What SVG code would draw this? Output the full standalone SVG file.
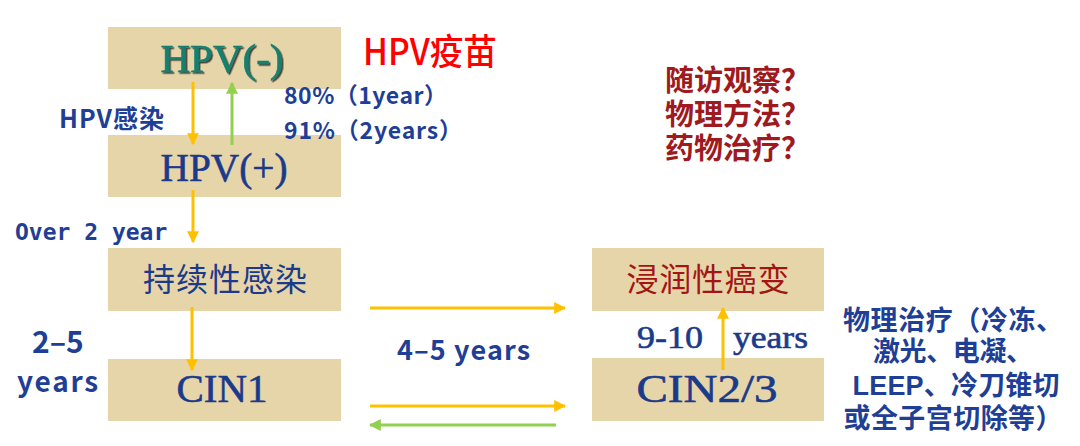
<svg xmlns="http://www.w3.org/2000/svg" width="1080" height="446" viewBox="0 0 1080 446">
<defs>
<style>
.box{fill:#E6D5A9}
.serif{font-family:"Liberation Serif","Noto Sans CJK SC",serif;stroke-width:0.6}
.cjkserif{font-family:"Noto Sans CJK SC",sans-serif;font-weight:normal}
.lbl{font-family:"Noto Sans CJK SC","Liberation Sans",sans-serif;font-weight:bold;fill:#1F3F96}
.lbl2{font-family:"Liberation Sans","Noto Sans CJK SC",sans-serif;font-weight:bold;fill:#1F3F96}
.navy{fill:#1B3A8A;stroke:#1B3A8A}
.or{stroke:#FFC000;stroke-width:3;fill:none}
.gr{stroke:#92D050;stroke-width:3;fill:none}
</style>
<marker id="ao" viewBox="0 0 10 10" refX="9" refY="5" markerWidth="4" markerHeight="4" markerUnits="strokeWidth" orient="auto"><path d="M0,0 L10,5 L0,10 z" fill="#FFC000"/></marker>
<marker id="ag" viewBox="0 0 10 10" refX="9" refY="5" markerWidth="4" markerHeight="4" markerUnits="strokeWidth" orient="auto"><path d="M0,0 L10,5 L0,10 z" fill="#92D050"/></marker>
<filter id="sh" x="-10%" y="-10%" width="130%" height="130%"><feDropShadow dx="1.5" dy="1.5" stdDeviation="0.6" flood-color="#1a1a1a" flood-opacity="0.8"/></filter>
</defs>
<rect width="1080" height="446" fill="#ffffff"/>

<g id="n-hpvneg"><rect class="box" x="108" y="27" width="233" height="62"/><text class="serif" x="222" y="72" font-size="41" text-anchor="middle" fill="#157F6E" stroke="#157F6E" filter="url(#sh)" textLength="123" lengthAdjust="spacingAndGlyphs">HPV(-)</text></g>
<g id="n-hpvpos"><rect class="box" x="108" y="135" width="233" height="62"/><text class="serif navy" x="224" y="181" font-size="40" text-anchor="middle" textLength="127" lengthAdjust="spacingAndGlyphs">HPV(+)</text></g>
<g id="n-persist"><rect class="box" x="108" y="248" width="233" height="63"/><text class="cjkserif" x="225" y="291" font-size="32" text-anchor="middle" fill="#1B3A8A" textLength="164">持续性感染</text></g>
<g id="n-cin1"><rect class="box" x="108" y="359" width="233" height="62"/><text class="serif navy" x="222" y="402" font-size="40" text-anchor="middle" textLength="91" lengthAdjust="spacingAndGlyphs">CIN1</text></g>
<g id="n-invasive"><rect class="box" x="592" y="248" width="232" height="63"/><text class="cjkserif" x="708" y="291" font-size="32" text-anchor="middle" fill="#A31515" textLength="163">浸润性癌变</text></g>
<g id="n-cin23"><rect class="box" x="592" y="358" width="232" height="63"/><text class="serif navy" x="707" y="402" font-size="40" text-anchor="middle" textLength="141" lengthAdjust="spacingAndGlyphs">CIN2/3</text></g>

<g id="connectors">
<line class="or" x1="193" y1="82" x2="193" y2="144" marker-end="url(#ao)"/>
<line class="gr" x1="232" y1="145" x2="232" y2="83" marker-end="url(#ag)"/>
<line class="or" x1="193" y1="190" x2="193" y2="242" marker-end="url(#ao)"/>
<line class="or" x1="192" y1="307" x2="192" y2="370" marker-end="url(#ao)"/>
<line class="or" x1="723" y1="370" x2="723" y2="308" marker-end="url(#ao)"/>
<line class="or" x1="370" y1="308" x2="565" y2="308" marker-end="url(#ao)"/>
<line class="or" x1="370" y1="406" x2="565" y2="406" marker-end="url(#ao)"/>
<line class="gr" x1="556" y1="425" x2="370" y2="425" marker-end="url(#ag)"/>
</g>

<g id="labels">
<text class="lbl" x="363" y="65" font-size="36" style="fill:#FF0000;font-weight:500" textLength="134" lengthAdjust="spacingAndGlyphs">HPV疫苗</text>
<text class="lbl" x="59" y="128" font-size="25" textLength="105">HPV感染</text>
<text class="lbl" x="284" y="104" font-size="23" textLength="163">80%（1year）</text>
<text class="lbl" x="284" y="139" font-size="23" textLength="178">91%（2years）</text>
<text x="15" y="240" font-size="23" font-family="'DejaVu Sans Mono','Liberation Mono',monospace" font-weight="bold" fill="#1F3F96">Over 2 year</text>
<text class="lbl" x="32" y="353" font-size="30">2–5</text>
<text class="lbl" x="17" y="392" font-size="28" textLength="81">years</text>
<text class="lbl" x="397" y="360" font-size="27" textLength="133">4–5 years</text>
<text class="serif navy" x="637" y="348" font-size="31" textLength="66" lengthAdjust="spacingAndGlyphs">9-10</text>
<text class="serif navy" x="733" y="348" font-size="31" textLength="75" lengthAdjust="spacingAndGlyphs">years</text>
<g class="lbl2" style="fill:#9E1A1E" font-size="29">
<text x="665" y="91" textLength="145">随访观察？</text>
<text x="665" y="125" textLength="145">物理方法？</text>
<text x="665" y="159" textLength="145">药物治疗？</text>
</g>
<g class="lbl2" font-size="27" text-anchor="middle">
<text x="953" y="330" textLength="220">物理治疗（冷冻、</text>
<text x="953" y="361" textLength="160">激光、电凝、</text>
<text x="956" y="395" textLength="207">LEEP、冷刀锥切</text>
<text x="953" y="428" textLength="219">或全子宫切除等）</text>
</g>
</g>
</svg>
